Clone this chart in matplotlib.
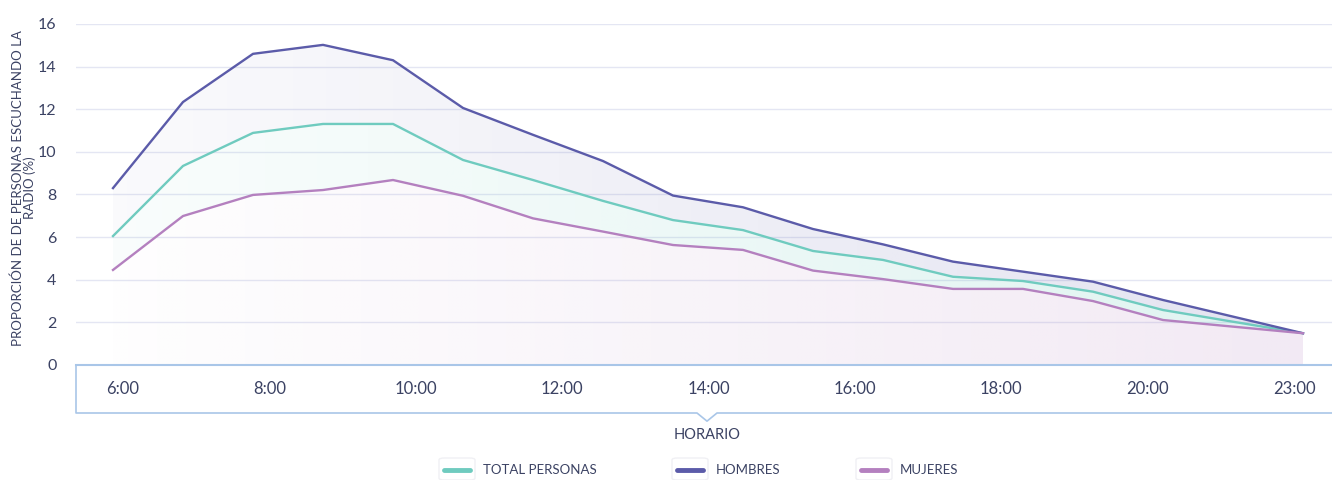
import numpy as np
import matplotlib
matplotlib.use("Agg")
import matplotlib.pyplot as plt
from matplotlib.lines import Line2D
from matplotlib.patches import FancyBboxPatch

# datos (proporción de personas escuchando la radio, %)
horas = list(range(6, 24))
hombres = [8.3, 12.34, 14.6, 15.02, 14.3, 12.06, 10.8, 9.57, 7.95, 7.4, 6.38,
           5.66, 4.85, 4.38, 3.91, 3.05, 2.27, 1.49]
total = [6.05, 9.34, 10.89, 11.31, 11.31, 9.62, 8.68, 7.7, 6.8, 6.33, 5.35,
         4.93, 4.14, 3.94, 3.44, 2.58, 2.03, 1.49]
mujeres = [4.46, 6.99, 7.98, 8.21, 8.68, 7.94, 6.88, 6.26, 5.63, 5.4, 4.43,
           4.03, 3.57, 3.57, 3.0, 2.11, 1.8, 1.49]
etiquetas_x = ["6:00", "8:00", "10:00", "12:00", "14:00", "16:00", "18:00", "20:00", "23:00"]
yticks = [0, 2, 4, 6, 8, 10, 12, 14, 16]

c_total = "#6fcbbf"
c_hombres = "#5b5ba9"
c_mujeres = "#b480bf"
c_text = "#3b4263"
c_grid = "#e4e6f3"
c_axis = "#a9c6e8"

plt.rcParams['font.family'] = ['Lato', 'DejaVu Sans']

W, H = 1332, 480
fig = plt.figure(figsize=(W / 100, H / 100), dpi=100)

# ejes principales (pixeles -> fracciones)
x0, x1 = 76, 1332
y_top, y_bot = 24, 365
ax = fig.add_axes([x0 / W, 1 - y_bot / H, (x1 - x0) / W, (y_bot - y_top) / H])

x = np.array(horas, dtype=float)
xmin = x[0] + (x0 - 113) / 70
xmax = x[0] + (x1 - 113) / 70


def grad_band(ax, x, lo, hi, rgb, a0, a1, z):
    poly = ax.fill_between(x, lo, hi, facecolor='none', edgecolor='none')
    g = np.zeros((1, 256, 4))
    g[..., :3] = matplotlib.colors.to_rgb(rgb)
    g[..., 3] = np.linspace(a0, a1, 256)
    im = ax.imshow(g, aspect='auto', extent=[x[0], x[-1], 0, max(hi)],
                   origin='lower', zorder=z, interpolation='bilinear')
    im.set_clip_path(poly.get_paths()[0], transform=ax.transData)


cero = np.zeros(len(x))
grad_band(ax, x, total, hombres, c_hombres, 0.03, 0.17, 1)
grad_band(ax, x, mujeres, total, c_total, 0.04, 0.22, 1)
grad_band(ax, x, cero, mujeres, c_mujeres, 0.01, 0.17, 1)

ax.plot(x, total, color=c_total, lw=1.7, zorder=3)
ax.plot(x, hombres, color=c_hombres, lw=1.7, zorder=3)
ax.plot(x, mujeres, color=c_mujeres, lw=1.7, zorder=3)

ax.set_xlim(xmin, xmax)
ax.set_ylim(0, 16)
ax.set_yticks(yticks)
ax.set_xticks([])
ax.grid(axis='y', color=c_grid, lw=1)
ax.set_axisbelow(True)
for s in ax.spines.values():
    s.set_visible(False)
ax.tick_params(axis='y', length=0, labelsize=11.5, labelcolor=c_text, pad=14)
ax.set_ylabel("PROPORCIÓN DE DE PERSONAS ESCUCHANDO LA\nRADIO (%)", fontsize=9.5,
              color=c_text, linespacing=0.95)
ax.yaxis.set_label_coords(-0.032, 0.52)

# caja de etiquetas del eje x
bx = fig.add_axes([x0 / W, 1 - 413 / H, (x1 - x0) / W, (413 - 365) / H])
bx.set_xlim(xmin, xmax)
bx.set_ylim(0, 1)
bx.axis('off')
notch = x[0] + (707 - 113) / 70
dn = 10 / 70
bx.plot([xmin, xmin, notch - dn, notch, notch + dn, xmax + 1],
        [1, 0, 0, -0.17, 0, 0], color=c_axis, lw=1.2, clip_on=False)
bx.plot([xmin, xmax], [1, 1], color=c_axis, lw=1.5, clip_on=False)
pos_labels = np.linspace(x[0] + (123 - 113) / 70, x[0] + (1294 - 113) / 70, len(etiquetas_x))
for p, t in zip(pos_labels, etiquetas_x):
    bx.text(p, 0.5, t, ha='center', va='center', fontsize=12, color=c_text)
fig.text(707 / W, 1 - 435 / H, "HORARIO", ha='center', va='center', fontsize=10.5,
         color=c_text)

# leyenda
items = [("TOTAL PERSONAS", c_total, 444), ("HOMBRES", c_hombres, 677), ("MUJERES", c_mujeres, 861)]
for lab, col, px in items:
    box = FancyBboxPatch(((px - 5) / W, 1 - 480 / H), 36 / W, 22 / H,
                         boxstyle="round,pad=0,rounding_size=0.004", transform=fig.transFigure,
                         facecolor='white', edgecolor='#f0f0f4', lw=1)
    fig.add_artist(box)
    fig.add_artist(Line2D([px / W, (px + 26) / W], [1 - 470 / H] * 2, color=col, lw=3.5,
                          solid_capstyle='round', transform=fig.transFigure))
    fig.text((px + 39) / W, 1 - 470 / H, lab, ha='left', va='center', fontsize=9.5, color=c_text)

fig.savefig("out.png", dpi=100)
